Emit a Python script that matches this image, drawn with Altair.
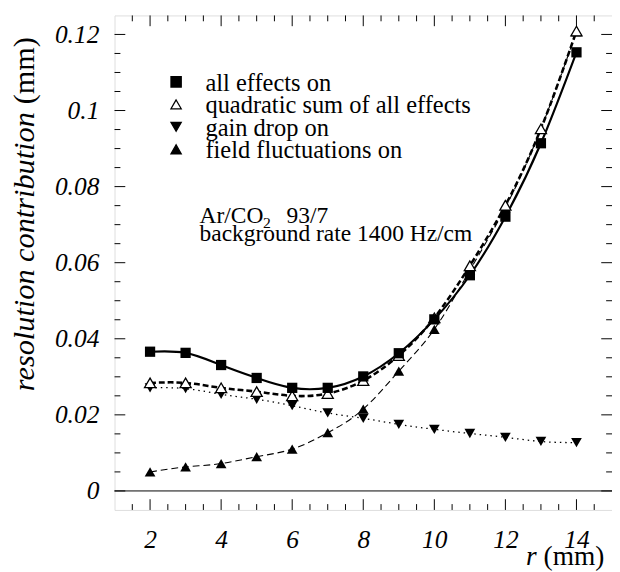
import altair as alt
import pandas as pd

# ---- data ----
r_mm = [2, 3, 4, 5, 6, 7, 8, 9, 10, 11, 12, 13, 14]
all_effects = [0.0366, 0.0363, 0.0331, 0.0297, 0.0271, 0.0271, 0.0301, 0.0362, 0.0451, 0.0567, 0.0721, 0.0914, 0.1153]
quad_sum = [0.0284, 0.0284, 0.0271, 0.0261, 0.0250, 0.0256, 0.0290, 0.0356, 0.0455, 0.0592, 0.0751, 0.0952, 0.1209]
gain_drop = [0.0271, 0.0269, 0.0254, 0.0241, 0.0224, 0.0205, 0.0191, 0.0175, 0.0162, 0.0151, 0.0141, 0.0130, 0.0127]
field_fluct = [0.0050, 0.0063, 0.0072, 0.0090, 0.0110, 0.0153, 0.0215, 0.0315, 0.0425, 0.0580, 0.0745, 0.0952, 0.1207]

x_major = [2, 4, 6, 8, 10, 12, 14]
x_minor = [1.5, 2.5, 3, 3.5, 4.5, 5, 5.5, 6.5, 7, 7.5, 8.5, 9, 9.5, 10.5, 11, 11.5, 12.5, 13, 13.5, 14.5]
y_major = [0, 0.02, 0.04, 0.06, 0.08, 0.1, 0.12]
y_minor = [0.005, 0.01, 0.015, 0.025, 0.03, 0.035, 0.045, 0.05, 0.055, 0.065, 0.07, 0.075,
           0.085, 0.09, 0.095, 0.105, 0.11, 0.115]

legend_labels = ["all effects on", "quadratic sum of all effects", "gain drop on", "field fluctuations on"]

W, H = 509, 506
SERIF = "Liberation Serif"
LAB = 26   # tick label size
TIT = 28   # x title size
YTIT = 31  # y title size
TXT = 25   # legend size
ANN = 24   # annotation size

xs = alt.Scale(domain=[1, 15], nice=False, zero=False)
ys = alt.Scale(domain=[-0.005, 0.125], nice=False, zero=False)

df_all = pd.DataFrame({"r": r_mm, "v": all_effects})
df_quad = pd.DataFrame({"r": r_mm, "v": quad_sum})
df_gain = pd.DataFrame({"r": r_mm, "v": gain_drop})
df_field = pd.DataFrame({"r": r_mm, "v": field_fluct})

X = alt.X("r:Q", scale=xs,
          axis=alt.Axis(values=x_major, title=None, tickSize=0, domain=False, grid=False,
                        labelFont=SERIF, labelFontStyle="italic", labelFontSize=LAB,
                        labelPadding=17, labelColor="black"))
Y = alt.Y("v:Q", scale=ys,
          axis=alt.Axis(values=y_major, format="~g", title=None, tickSize=0, domain=False, grid=False,
                        labelFont=SERIF, labelFontStyle="italic", labelFontSize=LAB,
                        labelPadding=16, labelColor="black"))

base_all = alt.Chart(df_all).encode(x=X, y=Y)
line_all = base_all.mark_line(color="black", strokeWidth=2.2, interpolate="natural")
pts_all = base_all.mark_point(shape="square", filled=True, color="black", size=110, opacity=1)

base_quad = alt.Chart(df_quad).encode(x="r:Q", y="v:Q")
line_quad = base_quad.mark_line(color="black", strokeWidth=2.6, strokeDash=[6, 3], interpolate="natural")
pts_quad = base_quad.mark_point(shape="triangle-up", filled=True, fill="white", stroke="black",
                                strokeWidth=1.3, size=130, opacity=1)

base_gain = alt.Chart(df_gain).encode(x="r:Q", y="v:Q")
line_gain = base_gain.mark_line(color="black", strokeWidth=1.3, strokeDash=[1.5, 4], interpolate="natural")
pts_gain = base_gain.mark_point(shape="triangle-down", filled=True, color="black", size=120, opacity=1)

base_field = alt.Chart(df_field).encode(x="r:Q", y="v:Q")
line_field = base_field.mark_line(color="black", strokeWidth=1.1, strokeDash=[7, 4], interpolate="natural")
pts_field = base_field.mark_point(shape="triangle-up", filled=True, color="black", size=120, opacity=1)

zero_line = alt.Chart(pd.DataFrame({"v": [0]})).mark_rule(color="black", strokeWidth=1).encode(
    y=alt.Y("v:Q"), x=alt.value(0), x2=alt.value(W))

# inward ticks on all four sides
def xticks(vals, length):
    d = pd.DataFrame({"r": vals})
    bot = alt.Chart(d).mark_rule(color="black", strokeWidth=1).encode(
        x="r:Q", y=alt.value(H), y2=alt.value(H - length))
    top = alt.Chart(d).mark_rule(color="black", strokeWidth=1).encode(
        x="r:Q", y=alt.value(0), y2=alt.value(length))
    return bot + top

def yticks(vals, length):
    d = pd.DataFrame({"v": vals})
    left = alt.Chart(d).mark_rule(color="black", strokeWidth=1).encode(
        y="v:Q", x=alt.value(0), x2=alt.value(length))
    right = alt.Chart(d).mark_rule(color="black", strokeWidth=1).encode(
        y="v:Q", x=alt.value(W), x2=alt.value(W - length))
    return left + right

ticks = xticks(x_major, 11) + xticks(x_minor, 6) + yticks(y_major, 11) + yticks(y_minor, 6)

# legend inside the plot
leg_y = [68, 91, 114, 137]
leg_sym = []
shapes = [("square", "black", "black"), ("triangle-up", "white", "black"),
          ("triangle-down", "black", "black"), ("triangle-up", "black", "black")]
for i, (shp, fill, stroke) in enumerate(shapes):
    leg_sym.append(alt.Chart(pd.DataFrame({"a": [0]})).mark_point(
        shape=shp, filled=True, fill=fill, stroke=stroke, strokeWidth=1.3, size=110, opacity=1
    ).encode(x=alt.value(63), y=alt.value(leg_y[i])))
    leg_sym.append(alt.Chart(pd.DataFrame({"t": [legend_labels[i]]})).mark_text(
        font=SERIF, fontSize=TXT, align="left", baseline="middle", color="black"
    ).encode(x=alt.value(93), y=alt.value(leg_y[i] + 1), text="t:N"))

def txt(s, x, y, size=ANN, style="normal", align="left", baseline="alphabetic", angle=0):
    return alt.Chart(pd.DataFrame({"t": [s]})).mark_text(
        font=SERIF, fontSize=size, fontStyle=style, align=align, baseline=baseline,
        color="black", angle=angle
    ).encode(x=alt.value(x), y=alt.value(y), text="t:N")

annot = (txt("Ar/CO", 87, 212) + txt("2", 152, 218, size=16) + txt("93/7", 176, 212)
         + txt("background rate 1400 Hz/cm", 87, 231))

xtitle = (txt("r", 421, 562, size=TIT, style="italic")
          + txt("(mm)", 439, 562, size=TIT))
ytitle = (txt("resolution contribution", -82, 99, size=YTIT, style="italic", align="right", angle=270)
          + txt("(mm)", -82, 91, size=YTIT, align="left", angle=270))

chart = alt.layer(
    zero_line, ticks,
    line_field, line_gain, line_quad, line_all,
    pts_field, pts_gain, pts_quad, pts_all,
    *leg_sym, annot, xtitle, ytitle
).properties(
    width=W, height=H,
    autosize=alt.AutoSizeParams(type="none"),
    padding={"left": 109, "top": 1, "right": 0, "bottom": 62},
).configure_view(stroke="black", strokeWidth=1.2).configure(background="white")

chart.save("out.html", embed_options={"renderer": "svg", "actions": False})
